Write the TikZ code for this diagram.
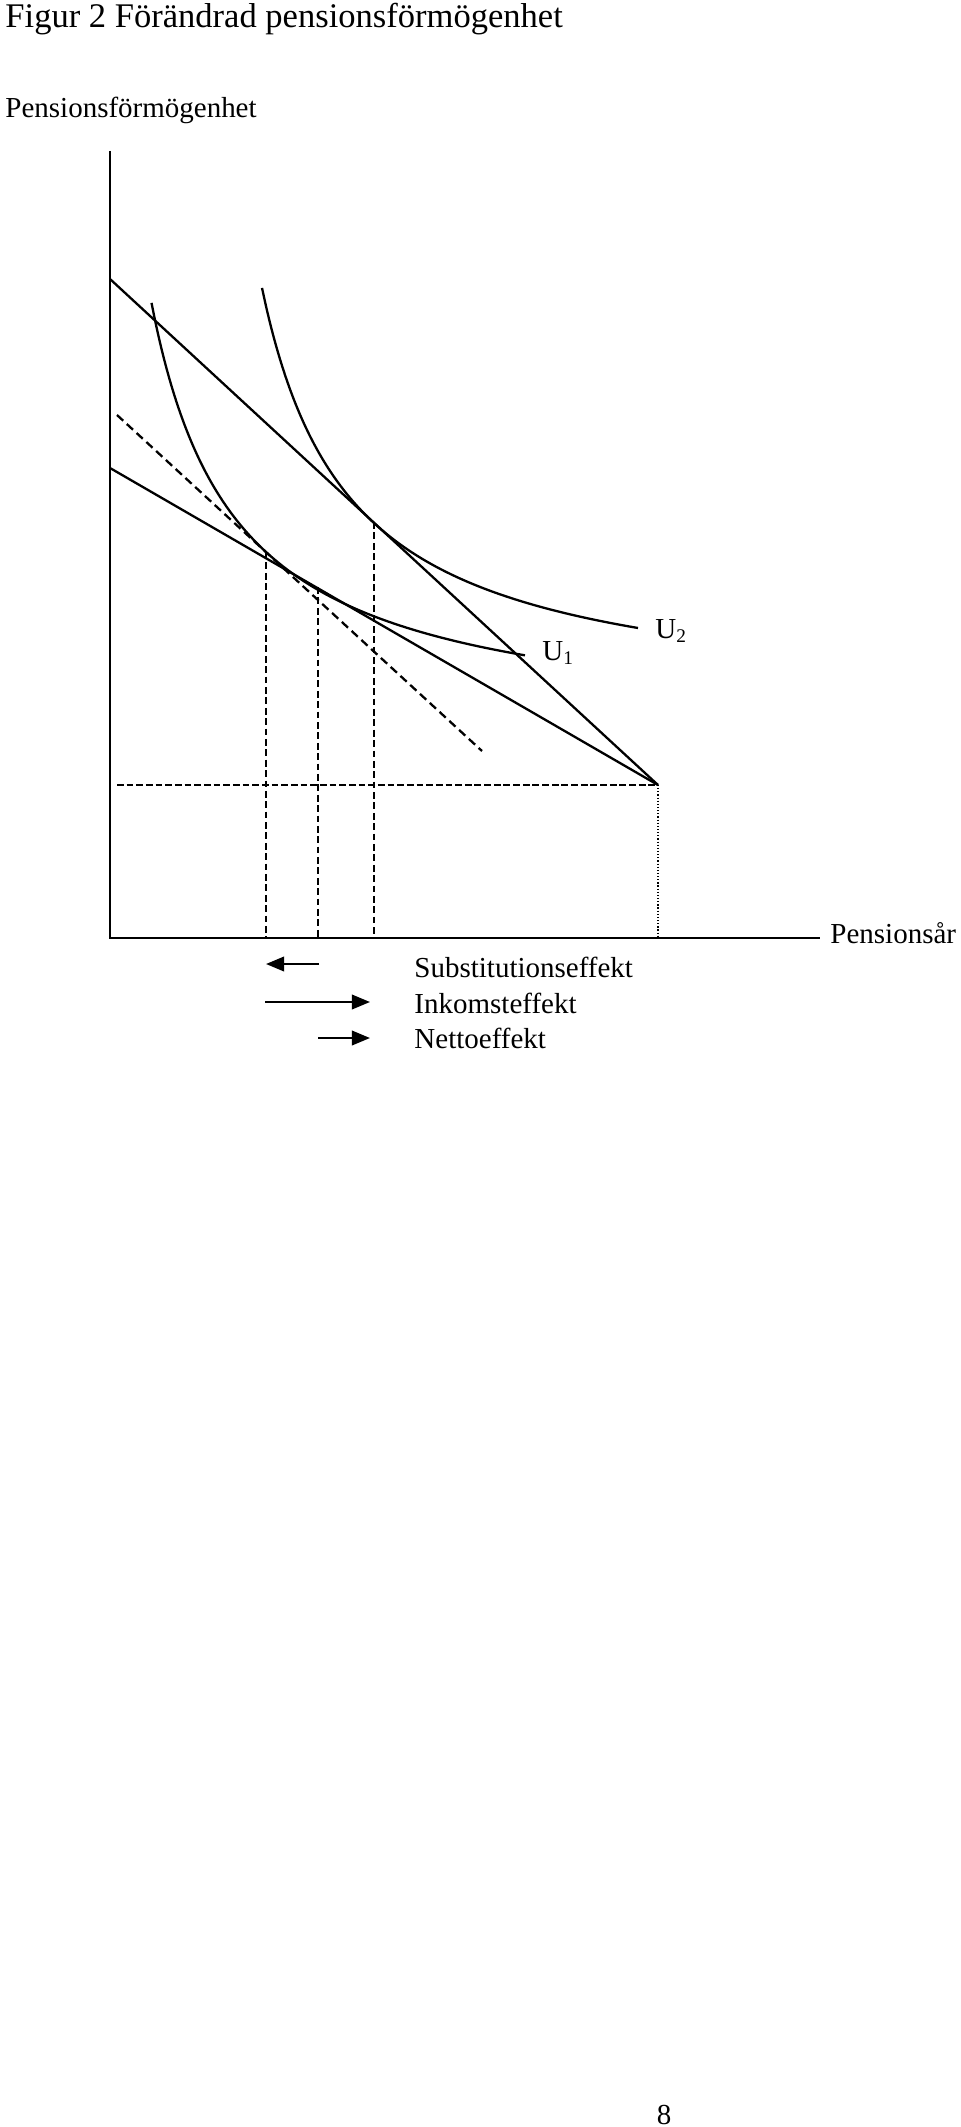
\documentclass[tikz,border=0pt]{standalone}
\usepackage{fontspec}
\setmainfont{Liberation Serif}
\usetikzlibrary{arrows.meta}

\begin{document}
\begin{tikzpicture}[x=0.414pt,y=-0.414pt,
    txt/.style={anchor=base west,inner sep=0pt,font=\fontsize{12pt}{14pt}\selectfont},
    curve/.style={line width=0.95pt},
    vdash/.style={line width=0.95pt,dash pattern=on 2.8pt off 1.5pt},
    effarrow/.style={line width=0.95pt,-{Triangle[length=7.5pt,width=6pt]}}]
    \useasboundingbox (0,0) rectangle (960,2127);

    \coordinate (O) at (110,938);
    \coordinate (ytop) at (110,151);
    \coordinate (xend) at (820,938);
    \coordinate (E) at (658,785);
    \coordinate (steep) at (110,279);
    \coordinate (flat) at (110,468);
    \coordinate (par0) at (117,415);
    \coordinate (par1) at (482,751);
    \coordinate (hz) at (117,785);
    \coordinate (s1) at (266,552);
    \coordinate (s2) at (318,587);
    \coordinate (s3) at (374,522);

    \node[anchor=base west,inner sep=0pt,font=\fontsize{14.3pt}{17pt}\selectfont] (title) at (5,28) {Figur 2 Förändrad pensionsförmögenhet};
    \node[txt] (ylab) at (5,118) {Pensionsförmögenhet};

    % axes
    \draw[curve] (ytop) -- (O) -- (xend);
    \node[txt] (xlab) at (830,943) {Pensionsår};

    % budget lines
    \draw[curve] (steep) -- (E);
    \draw[curve] (flat) -- (E);
    \draw[line width=0.95pt,dash pattern=on 3.5pt off 2pt] (par0) -- (par1);
    \draw[line width=0.95pt,dash pattern=on 2.8pt off 1.2pt] (hz) -- (E);
    \draw[line width=0.7pt,dash pattern=on 0.5pt off 0.8pt] (E) -- (E |- O);

    % indifference curves
    \draw[curve] plot[domain=151.5:525,samples=80,smooth] (\x,{734.5-362.14/((\x-67.6)/100)});
    \draw[curve] plot[domain=262:638,samples=80,smooth] (\x,{707.5-368.83/((\x-174.1)/100)});
    \node[txt] (U1) at (542,660) {U\textsubscript{1}};
    \node[txt] (U2) at (655,638) {U\textsubscript{2}};

    \draw[vdash] (s1) -- (s1 |- O);
    \draw[vdash] (s2) -- (s2 |- O);
    \draw[vdash] (s3) -- (s3 |- O);

    % effects
    \node[txt] (sub) at (414,977) {Substitutionseffekt};
    \node[txt] (ink) at (414,1013) {Inkomsteffekt};
    \node[txt] (net) at (414,1048) {Nettoeffekt};
    \draw[effarrow] (319,964) -- (266,964);
    \draw[effarrow] (265,1002) -- (370,1002);
    \draw[effarrow] (318,1038) -- (370,1038);

    \node[anchor=base,inner sep=0pt,font=\fontsize{12pt}{14pt}\selectfont] (page) at (664,2124) {8};
\end{tikzpicture}
\end{document}
